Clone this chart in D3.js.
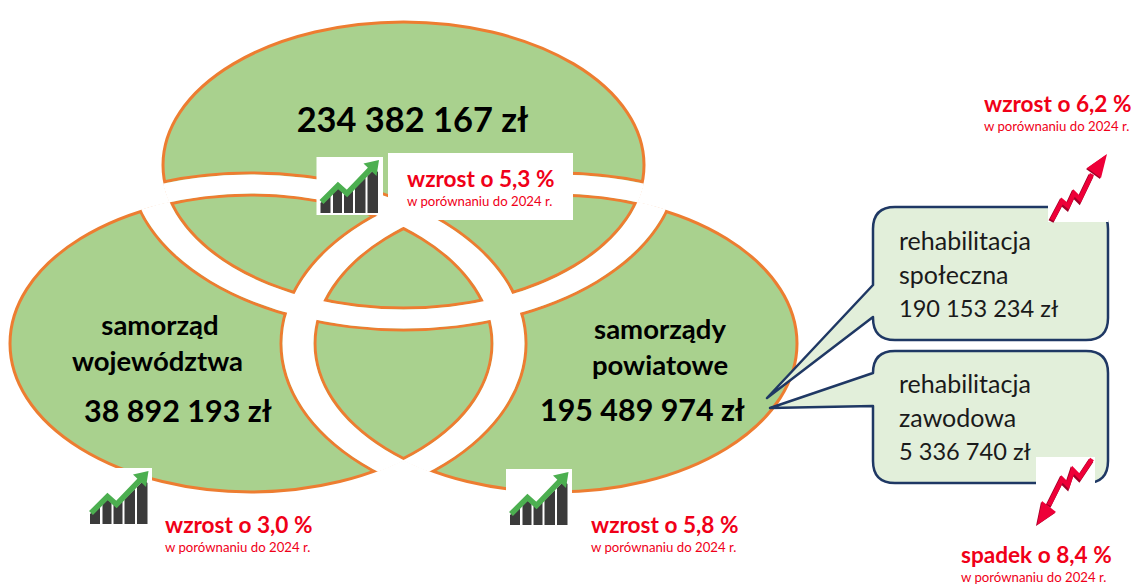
<!DOCTYPE html>
<html>
<head>
<meta charset="utf-8">
<script src="https://d3js.org/d3.v7.min.js"></script>
<style>
  html, body { margin: 0; padding: 0; background: #fff; overflow: hidden; }
  text { font-family: Lato, "Open Sans", sans-serif; }
</style>
</head>
<body>
<svg id="main_canvas" width="1138" height="584"></svg>
<script>
  "use strict";
  // Values
  const totalAmount = "234 382 167 zł";
  const unitNames = [["samorząd", "województwa"], ["samorządy", "powiatowe"]];
  const unitAmounts = ["38 892 193 zł", "195 489 974 zł"];
  const changeLabels = ["wzrost o 5,3 %", "wzrost o 3,0 %", "wzrost o 5,8 %", "wzrost o 6,2 %", "spadek o 8,4 %"];
  const compareLabel = "w porównaniu do 2024 r.";
  const calloutNames = [["rehabilitacja", "społeczna"], ["rehabilitacja", "zawodowa"]];
  const calloutAmounts = ["190 153 234 zł", "5 336 740 zł"];

  const GREEN = "#a9d18e";
  const ORANGE = "#ed7d31";
  const NAVY = "#1f3864";
  const PALE = "#e2efda";
  const RED = "#f00018";

  const canvas = d3.select("#main_canvas");
  const defs = canvas.append("defs");

  // Venn layout: inner ellipse is the visible edge, outer one the far side of the white band
  const rings = [
    { id: "top", cx: 403.5, cy: 165, rx: 240.5, ry: 143, orx: 274, ory: 165 },
    { id: "left", cx: 251, cy: 343.5, rx: 241, ry: 148.5, orx: 275, ory: 170.5 },
    { id: "right", cx: 556, cy: 343.5, rx: 241, ry: 148.5, orx: 275, ory: 170.5 }
  ];
  const LINE = 3;

  const ellipsePath = (cx, cy, rx, ry) =>
    `M${cx - rx},${cy}A${rx},${ry} 0 1,0 ${cx + rx},${cy}A${rx},${ry} 0 1,0 ${cx - rx},${cy}Z`;

  // each band only shows inside the other two ellipses
  rings.forEach((r) => {
    const others = rings.filter((o) => o !== r);
    [["line", 0], ["white", 2]].forEach(([kind, grow]) => {
      defs.append("clipPath")
        .attr("id", `clip_${kind}_${r.id}`)
        .selectAll("ellipse")
        .data(others)
        .enter()
        .append("ellipse")
        .attr("cx", (d) => d.cx)
        .attr("cy", (d) => d.cy)
        .attr("rx", (d) => d.rx + grow)
        .attr("ry", (d) => d.ry + grow);
    });
  });

  const venn = canvas.append("g").attr("id", "venn");

  venn.selectAll("ellipse.fill")
    .data(rings)
    .enter()
    .append("ellipse")
    .attr("class", "fill")
    .attr("cx", (d) => d.cx)
    .attr("cy", (d) => d.cy)
    .attr("rx", (d) => d.rx)
    .attr("ry", (d) => d.ry)
    .attr("fill", GREEN);

  venn.selectAll("ellipse.edge")
    .data(rings)
    .enter()
    .append("ellipse")
    .attr("class", "edge")
    .attr("cx", (d) => d.cx)
    .attr("cy", (d) => d.cy)
    .attr("rx", (d) => d.rx)
    .attr("ry", (d) => d.ry)
    .attr("fill", "none")
    .attr("stroke", ORANGE)
    .attr("stroke-width", LINE);

  // orange edge of the bands
  venn.selectAll("ellipse.far")
    .data(rings)
    .enter()
    .append("ellipse")
    .attr("class", "far")
    .attr("clip-path", (d) => `url(#clip_line_${d.id})`)
    .attr("cx", (d) => d.cx)
    .attr("cy", (d) => d.cy)
    .attr("rx", (d) => d.orx)
    .attr("ry", (d) => d.ory)
    .attr("fill", "none")
    .attr("stroke", ORANGE)
    .attr("stroke-width", LINE);

  // white bands, kept just inside their orange edges
  const inset = LINE / 2;
  venn.selectAll("path.band")
    .data(rings)
    .enter()
    .append("path")
    .attr("class", "band")
    .attr("clip-path", (d) => `url(#clip_white_${d.id})`)
    .attr("fill-rule", "evenodd")
    .attr("fill", "#fff")
    .attr("d", (d) =>
      ellipsePath(d.cx, d.cy, d.orx - inset, d.ory - inset) +
      ellipsePath(d.cx, d.cy, d.rx + inset, d.ry + inset));

  // Callouts
  const callouts = [
    { x: 873, y: 207, w: 235, h: 133, py1: 285, py2: 317, tipX: 767, tipY: 398, base: 250 },
    { x: 873, y: 351, w: 235, h: 132, py1: 373, py2: 406, tipX: 770, tipY: 408, base: 393 }
  ];
  const calloutPath = (c) => {
    const r = 22, x2 = c.x + c.w, y2 = c.y + c.h;
    return `M${c.x + r},${c.y}H${x2 - r}Q${x2},${c.y} ${x2},${c.y + r}V${y2 - r}Q${x2},${y2} ${x2 - r},${y2}` +
      `H${c.x + r}Q${c.x},${y2} ${c.x},${y2 - r}V${c.py2}L${c.tipX},${c.tipY}L${c.x},${c.py1}V${c.y + r}Q${c.x},${c.y} ${c.x + r},${c.y}Z`;
  };
  canvas.selectAll("path.callout")
    .data(callouts)
    .enter()
    .append("path")
    .attr("class", "callout")
    .attr("d", calloutPath)
    .attr("fill", PALE)
    .attr("stroke", NAVY)
    .attr("stroke-width", 2.5)
    .attr("stroke-linejoin", "round");

  callouts.forEach((c, i) => {
    const lines = [...calloutNames[i], calloutAmounts[i]];
    canvas.append("g")
      .selectAll("text")
      .data(lines)
      .enter()
      .append("text")
      .attr("x", 899)
      .attr("y", (d, j) => c.base + j * 33.5)
      .attr("font-size", (d, j) => (j < 2 ? 25 : 23.6))
      .attr("fill", "#1a1a1a")
      .text((d) => d);
  });

  // White patches behind the icons and the text
  const patches = [
    [316.5, 157, 66.5, 58], [388, 153, 185, 67],
    [86, 468, 66, 58], [506, 469, 66, 58],
    [1048, 190, 60.5, 32], [1036, 457, 59, 30]
  ];
  canvas.selectAll("rect.patch")
    .data(patches)
    .enter()
    .append("rect")
    .attr("class", "patch")
    .attr("x", (d) => d[0])
    .attr("y", (d) => d[1])
    .attr("width", (d) => d[2])
    .attr("height", (d) => d[3])
    .attr("fill", "#fff");

  // Growth icons
  const iconSpots = [[316.5, 157], [86, 468], [506, 469]];
  const iconBars = [
    "M4,46L14,37V56H4Z",
    "M16.5,34L21.5,31L25.5,35V56H16.5Z",
    "M27.5,37L30.5,39L36.5,33V56H27.5Z",
    "M38.5,31L49,21V56H38.5Z",
    "M51,19L58,12L61.5,15V56H51Z"
  ];
  iconSpots.forEach(([x, y]) => {
    const icon = canvas.append("g").attr("transform", `translate(${x},${y})`);
    icon.selectAll("path.bar")
      .data(iconBars)
      .enter()
      .append("path")
      .attr("class", "bar")
      .attr("d", (d) => d)
      .attr("fill", "#3b3b3b");
    icon.append("path")
      .attr("d", "M5,45L21.5,28.5L30.5,36.5L54,12")
      .attr("fill", "none")
      .attr("stroke", "#4caf50")
      .attr("stroke-width", 5.5);
    icon.append("path")
      .attr("d", "M47,6.5L62.5,3L60,19Z")
      .attr("fill", "#4caf50");
  });

  // Red zigzag arrows
  const zigzags = [
    {
      line: "M1052,220L1062,201L1068,206L1074,193L1080,199L1092,174",
      head: "M1087,168L1107,154L1101,178Z"
    },
    {
      line: "M1092,459L1080,477L1073,470L1068,485L1062,479L1049,505",
      head: "M1042,501L1037,525L1056,512Z"
    }
  ];
  zigzags.forEach((z) => {
    const g = canvas.append("g");
    g.append("path")
      .attr("d", z.line)
      .attr("transform", "translate(-1,1.5)")
      .attr("fill", "none")
      .attr("stroke", "#a00028")
      .attr("stroke-width", 5.5);
    g.append("path")
      .attr("d", z.head)
      .attr("transform", "translate(-1,1)")
      .attr("fill", "#a00028");
    g.append("path")
      .attr("d", z.line)
      .attr("fill", "none")
      .attr("stroke", "#ee0038")
      .attr("stroke-width", 4.5);
    g.append("path")
      .attr("d", z.head)
      .attr("fill", "#ee0038");
  });

  // Black labels
  const blackLabels = [
    { t: totalAmount, x: 412.5, y: 132, size: 34.4 },
    { t: unitNames[0][0], x: 160, y: 335, size: 27.5 },
    { t: unitNames[0][1], x: 157.5, y: 371, size: 27.5 },
    { t: unitAmounts[0], x: 178, y: 422, size: 30.5 },
    { t: unitNames[1][0], x: 660, y: 339, size: 27.5 },
    { t: unitNames[1][1], x: 660, y: 375, size: 27.5 },
    { t: unitAmounts[1], x: 642.5, y: 421, size: 30.4 }
  ];
  canvas.selectAll("text.black")
    .data(blackLabels)
    .enter()
    .append("text")
    .attr("class", "black")
    .attr("x", (d) => d.x)
    .attr("y", (d) => d.y)
    .attr("text-anchor", "middle")
    .attr("font-size", (d) => d.size)
    .attr("font-weight", 700)
    .attr("fill", "#000")
    .text((d) => d.t);

  // Red change labels
  const changeSpots = [[407, 187], [165, 533], [591, 533], [984, 112], [961, 563]];
  canvas.selectAll("text.change")
    .data(changeLabels)
    .enter()
    .append("text")
    .attr("class", "change")
    .attr("x", (d, i) => changeSpots[i][0])
    .attr("y", (d, i) => changeSpots[i][1])
    .attr("font-size", 22.6)
    .attr("font-weight", 700)
    .attr("fill", RED)
    .text((d) => d);
  canvas.selectAll("text.compare")
    .data(changeLabels)
    .enter()
    .append("text")
    .attr("class", "compare")
    .attr("x", (d, i) => changeSpots[i][0])
    .attr("y", (d, i) => changeSpots[i][1] + 19)
    .attr("font-size", 13.2)
    .attr("fill", RED)
    .text(compareLabel);
</script>
</body>
</html>
